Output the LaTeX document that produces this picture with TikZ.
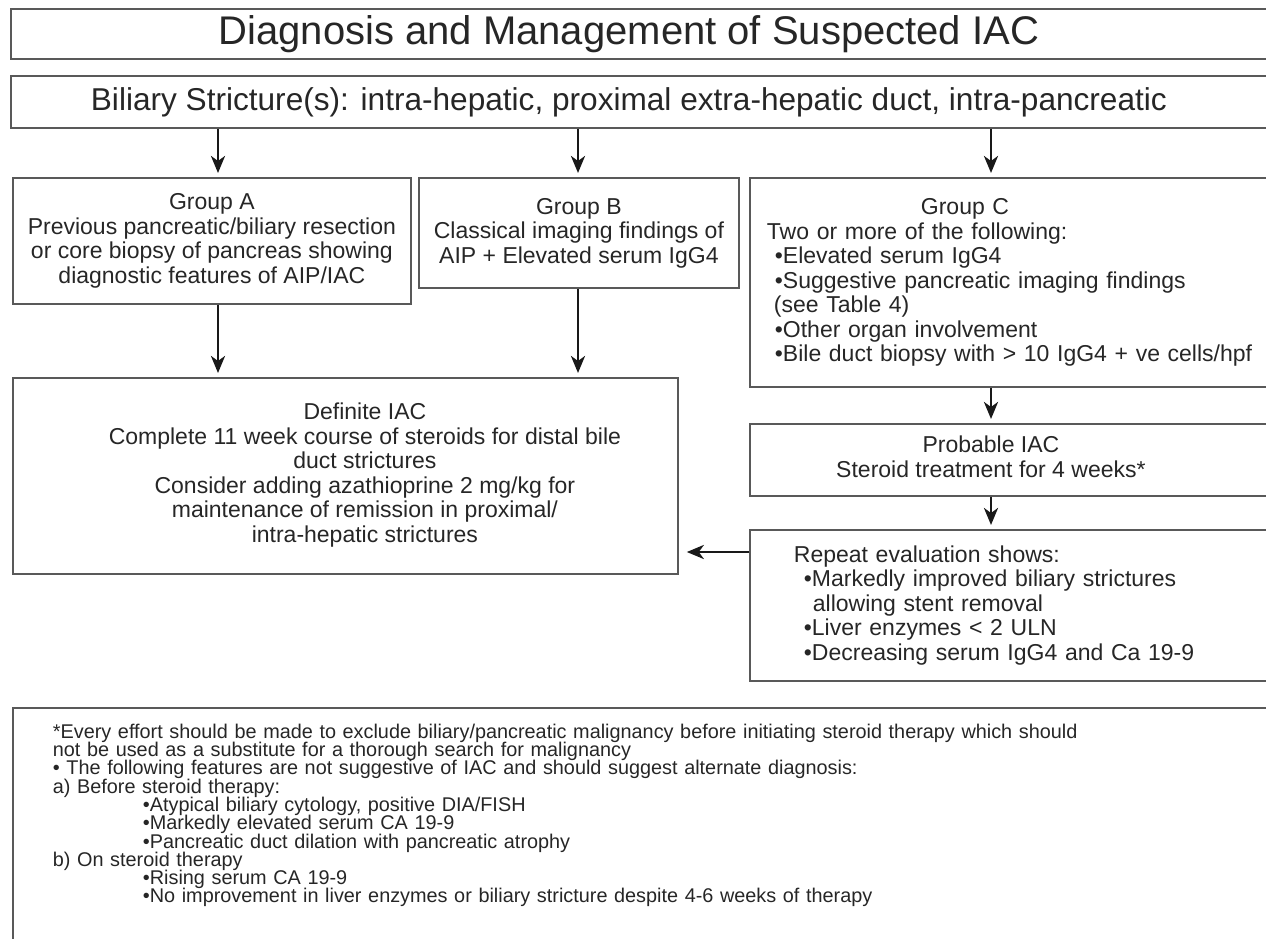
\documentclass[tikz,border=0pt]{standalone}
\usepackage{fontspec}
\setmainfont{Liberation Sans}
\usetikzlibrary{arrows.meta}
\newcommand{\notefont}{\fontsize{19.85}{18.3}\selectfont\lineskiplimit-20pt\relax}

\begin{document}
\begin{tikzpicture}[
    x=1pt, y=-1pt,
    box/.style={draw=black!65, line width=1.8pt, anchor=north west, inner sep=0pt,
                text=black!85, align=center, font=\fontsize{23}{24.5}\selectfont},
    listbox/.style={box, align=left},
    notes/.style={box, align=left, font=\notefont},
    flow/.style={line width=2.8pt, draw=black!90, shorten >=4pt,
                 -{Stealth[length=17pt, width=14pt, inset=5pt]}},
]
\useasboundingbox (0,0) rectangle (1266,939);
\clip (0,0) rectangle (1266,939);

\node[box, minimum width=1258, minimum height=50, font=\fontsize{40}{44}\selectfont] (title) at (10,8)
    {Diagnosis and Management of Suspected IAC\hspace*{22pt}};
\node[box, minimum width=1258, minimum height=52, font=\fontsize{31.6}{34}\selectfont] (biliary) at (10,75)
    {Biliary Stricture(s): intra-hepatic, proximal extra-hepatic duct, intra-pancreatic\hspace*{22pt}};

\node[box, minimum width=398, minimum height=126] (groupA) at (12,177)
    {Group A\\Previous pancreatic/biliary resection\\or core biopsy of pancreas showing\\diagnostic features of AIP/IAC};
\node[box, minimum width=320, minimum height=110] (groupB) at (418,177)
    {Group B\\Classical imaging findings of\\AIP + Elevated serum IgG4};
\node[listbox, text width=500, inner xsep=17pt, minimum height=209] (groupC) at (749,177)
    {\hspace*{154pt}Group C\\
     Two or more of the following:\\
     \hspace*{8pt}•Elevated serum IgG4\\
     \hspace*{8pt}•Suggestive pancreatic imaging findings\\
     \hspace*{7pt}(see Table 4)\\
     \hspace*{8pt}•Other organ involvement\\
     \hspace*{8pt}•Bile duct biopsy with > 10 IgG4 + ve cells/hpf};

\node[box, minimum width=665, minimum height=196] (definite) at (12,377)
    {\begin{tabular}{@{\hspace{39pt}}c@{}}
     Definite IAC\\
     Complete 11 week course of steroids for distal bile\\
     duct strictures\\
     Consider adding azathioprine 2 mg/kg for\\
     maintenance of remission in proximal/\\
     intra-hepatic strictures
     \end{tabular}};
\node[box, minimum width=519, minimum height=72] (probable) at (749,423)
    {\begin{tabular}{@{}c@{\hspace{37pt}}}
     Probable IAC\\
     Steroid treatment for 4 weeks*
     \end{tabular}};
\node[listbox, text width=480, inner xsep=44pt, minimum height=151] (repeatEval) at (749,529)
    {Repeat evaluation shows:\\
     \hspace*{10pt}•Markedly improved biliary strictures\\
     \hspace*{19pt}allowing stent removal\\
     \hspace*{10pt}•Liver enzymes < 2 ULN\\
     \hspace*{10pt}•Decreasing serum IgG4 and Ca 19-9};

\node[notes, text width=1220, inner xsep=40pt, inner ysep=16pt, text depth=250pt] (footnote) at (12,707)
    {{*}Every effort should be made to exclude biliary/pancreatic malignancy before initiating steroid therapy which should\\
     not be used as a substitute for a thorough search for malignancy\\
     • The following features are not suggestive of IAC and should suggest alternate diagnosis:\\
     a) Before steroid therapy:\\
     \hspace*{90pt}•Atypical biliary cytology, positive DIA/FISH\\
     \hspace*{90pt}•Markedly elevated serum CA 19-9\\
     \hspace*{90pt}•Pancreatic duct dilation with pancreatic atrophy\\
     b) On steroid therapy\\
     \hspace*{90pt}•Rising serum CA 19-9\\
     \hspace*{90pt}•No improvement in liver enzymes or biliary stricture despite 4-6 weeks of therapy};

% arrow columns
\coordinate (xa) at (218,0);
\coordinate (xb) at (578,0);
\coordinate (xc) at (991,0);
\coordinate (yr) at (0,552);

\draw[flow] (biliary.south -| xa) -- (groupA.north -| xa);
\draw[flow] (biliary.south -| xb) -- (groupB.north -| xb);
\draw[flow] (biliary.south -| xc) -- (groupC.north -| xc);
\draw[flow] (groupA.south -| xa) -- (definite.north -| xa);
\draw[flow] (groupB.south -| xb) -- (definite.north -| xb);
\draw[flow] (groupC.south -| xc) -- (probable.north -| xc);
\draw[flow] (probable.south -| xc) -- (repeatEval.north -| xc);
\draw[flow, shorten >=8pt] (repeatEval.west |- yr) -- (definite.east |- yr);
\end{tikzpicture}
\end{document}
